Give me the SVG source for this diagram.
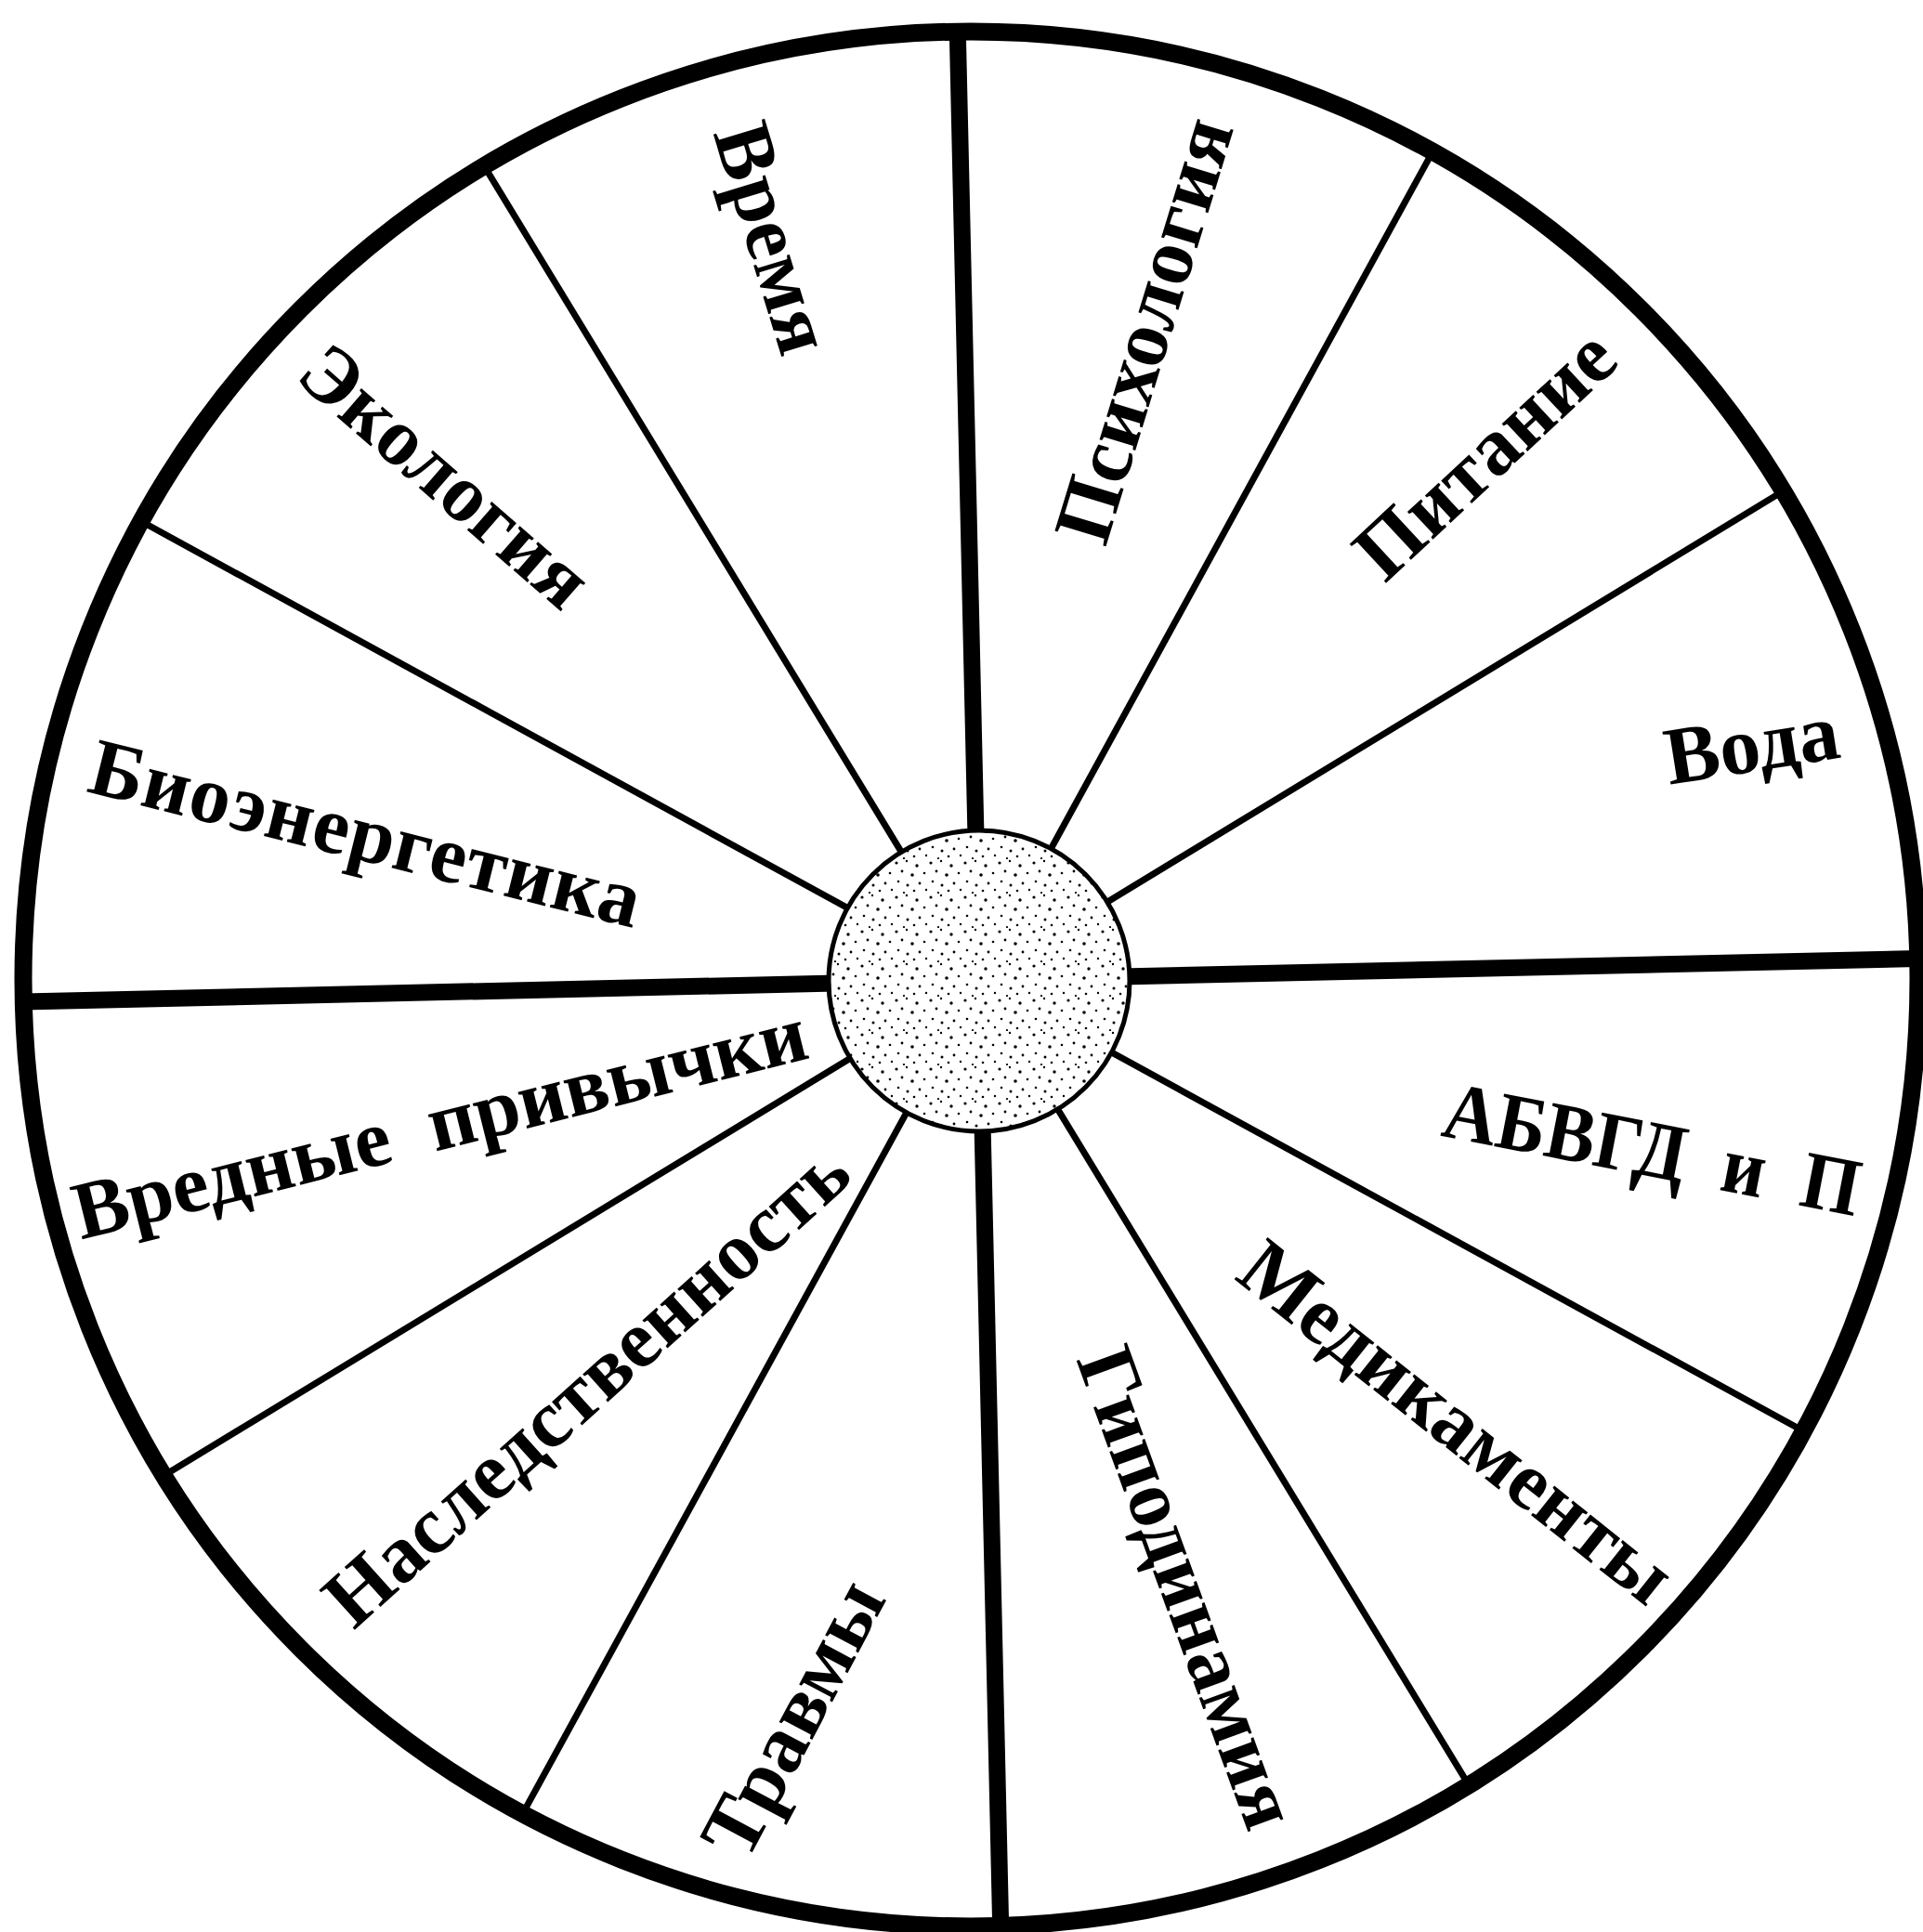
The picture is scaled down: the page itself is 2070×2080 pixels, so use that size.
<svg xmlns="http://www.w3.org/2000/svg" width="2070" height="2080" viewBox="0 0 2070 2080">
<style>
.lbl{font-family:"Liberation Serif","Times New Roman",serif;font-weight:bold;font-size:88px;fill:#000;text-anchor:middle}
.thick{stroke:#000;stroke-width:18;stroke-linecap:butt}
.thin{stroke:#000;stroke-width:7;stroke-linecap:butt}
</style>
<defs>
<clipPath id="wheel"><circle cx="1045" cy="1054" r="1020"/></clipPath>
<pattern id="stip" width="37" height="37" patternUnits="userSpaceOnUse">
<rect width="37" height="37" fill="#fff"/>
<circle cx="3" cy="4" r="1.6" fill="#000"/>
<circle cx="14" cy="2" r="1.2" fill="#000"/>
<circle cx="25" cy="7" r="1.7" fill="#000"/>
<circle cx="33" cy="15" r="1.3" fill="#000"/>
<circle cx="9" cy="13" r="1.4" fill="#000"/>
<circle cx="20" cy="17" r="1.8" fill="#000"/>
<circle cx="5" cy="24" r="1.3" fill="#000"/>
<circle cx="15" cy="28" r="1.5" fill="#000"/>
<circle cx="28" cy="26" r="1.4" fill="#000"/>
<circle cx="35" cy="33" r="1.2" fill="#000"/>
<circle cx="22" cy="34" r="1.3" fill="#000"/>
<circle cx="11" cy="36" r="1.1" fill="#000"/>
</pattern>
</defs>
<rect width="2070" height="2080" fill="#fff"/>
<g id="connectors" clip-path="url(#wheel)">
<line class="thick" x1="1054" y1="1055" x2="2153.7" y2="1030.0"/>
<line class="thin" x1="1054" y1="1055" x2="2018.9" y2="1583.2"/>
<line class="thin" x1="1054" y1="1055" x2="1625.5" y2="1994.9"/>
<line class="thick" x1="1054" y1="1055" x2="1079.0" y2="2154.7"/>
<line class="thin" x1="1054" y1="1055" x2="525.8" y2="2019.9"/>
<line class="thin" x1="1054" y1="1055" x2="114.1" y2="1626.5"/>
<line class="thick" x1="1054" y1="1055" x2="-45.7" y2="1080.0"/>
<line class="thin" x1="1054" y1="1055" x2="89.1" y2="526.8"/>
<line class="thin" x1="1054" y1="1055" x2="482.5" y2="115.1"/>
<line class="thick" x1="1054" y1="1055" x2="1029.0" y2="-44.7"/>
<line class="thin" x1="1054" y1="1055" x2="1582.2" y2="90.1"/>
<line class="thin" x1="1054" y1="1055" x2="1993.9" y2="483.5"/>
</g>
<g id="outer-circle"><circle cx="1045" cy="1054" r="1020" fill="none" stroke="#000" stroke-width="19"/></g>
<g id="hub"><circle cx="1054" cy="1056" r="162" fill="url(#stip)" stroke="#000" stroke-width="5"/></g>
<g id="n-vremya" transform="translate(830,257) rotate(73)"><text class="lbl" dy="0.3em">Время</text></g>
<g id="n-psihologiya" transform="translate(1234,356) rotate(-73)"><text class="lbl" dy="0.3em">Психология</text></g>
<g id="n-pitanie" transform="translate(1600,491) rotate(-43)"><text class="lbl" dy="0.3em">Питание</text></g>
<g id="n-voda" transform="translate(1886,804) rotate(-9)"><text class="lbl" dy="0.3em">Вода</text></g>
<g id="n-abvgd" transform="translate(1778,1240) rotate(11)"><text class="lbl" dy="0.3em" xml:space="preserve" textLength="455" lengthAdjust="spacingAndGlyphs">АБВГД  и  П</text></g>
<g id="n-medikamenty" transform="translate(1567,1533) rotate(38.5)"><text class="lbl" dy="0.3em">Медикаменты</text></g>
<g id="n-gipodinamiya" transform="translate(1276,1710) rotate(70)"><text class="lbl" dy="0.3em">Гиподинамия</text></g>
<g id="n-travmy" transform="translate(856,1851) rotate(-62)"><text class="lbl" dy="0.3em">Травмы</text></g>
<g id="n-nasledstvennost" transform="translate(633,1493) rotate(-42)"><text class="lbl" dy="0.3em">Наследственность</text></g>
<g id="n-vrednye" transform="translate(474,1211) rotate(-14)"><text class="lbl" dy="0.3em" xml:space="preserve">Вредные  привычки</text></g>
<g id="n-bioenergetika" transform="translate(393,900) rotate(14)"><text class="lbl" dy="0.3em" textLength="608" lengthAdjust="spacing">Биоэнергетика</text></g>
<g id="n-ekologiya" transform="translate(478,514) rotate(41)"><text class="lbl" dy="0.3em">Экология</text></g>
</svg>
